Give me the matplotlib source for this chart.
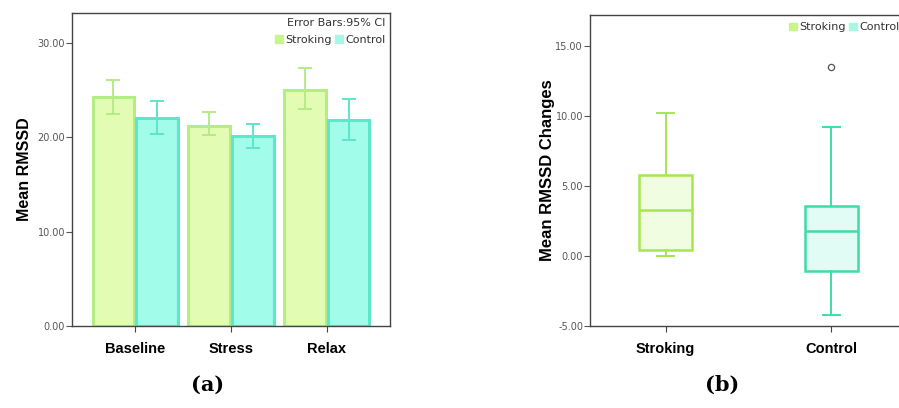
import numpy as np
import matplotlib.pyplot as plt
from matplotlib.patches import Patch

# Mean RMSSD per phase with 95% CI
phases = ["Baseline", "Stress", "Relax"]
stroking_mean = [24.3, 21.25, 25.0]
stroking_lo = [22.5, 20.3, 23.0]
stroking_hi = [26.1, 22.7, 27.4]
control_mean = [22.1, 20.1, 21.8]
control_lo = [20.4, 18.9, 19.7]
control_hi = [23.9, 21.4, 24.1]

# RMSSD change box statistics
groups = ["Stroking", "Control"]
box_whislo = [0.0, -4.22]
box_q1 = [0.43, -1.07]
box_med = [3.28, 1.78]
box_q3 = [5.79, 3.54]
box_whishi = [10.16, 9.17]
box_fliers = [[], [13.46]]

str_fill, str_edge = "#e2fdb3", "#b4ec86"
ctl_fill, ctl_edge = "#a2fcea", "#5de6cb"
box_str_fill, box_str_edge = "#f1fde0", "#a6e64f"
box_ctl_fill, box_ctl_edge = "#e1fcf4", "#3fdca6"
tick_col = "#555555"
sans = "Liberation Sans"

fig = plt.figure(figsize=(8.99, 4.08), dpi=100)

# (a) bar chart
ax1 = fig.add_axes([0.0801, 0.2017, 0.3537, 0.7664])
x = np.arange(len(phases))
w = 0.435
g = 0.02
xs = x - w / 2 - g / 2
xc = x + w / 2 + g / 2
ax1.bar(xs, stroking_mean, width=w, color=str_fill, edgecolor=str_edge, linewidth=2.2, zorder=2)
ax1.bar(xc, control_mean, width=w, color=ctl_fill, edgecolor=ctl_edge, linewidth=2.2, zorder=2)
sm = np.array(stroking_mean)
cm = np.array(control_mean)
ax1.errorbar(xs, sm, yerr=[sm - np.array(stroking_lo), np.array(stroking_hi) - sm],
             fmt="none", ecolor=str_edge, elinewidth=1.4, capsize=5, capthick=1.4, zorder=3)
ax1.errorbar(xc, cm, yerr=[cm - np.array(control_lo), np.array(control_hi) - cm],
             fmt="none", ecolor=ctl_edge, elinewidth=1.4, capsize=5, capthick=1.4, zorder=3)
ax1.set_xlim(-0.66, 2.66)
ax1.set_ylim(0, 33.2)
ax1.set_yticks([0, 10, 20, 30])
ax1.set_yticklabels(["0.00", "10.00", "20.00", "30.00"])
ax1.set_xticks(x)
ax1.set_xticklabels(phases, fontsize=10.5, fontweight="bold", family=sans)
ax1.set_ylabel("Mean RMSSD", fontsize=11.5, fontweight="bold", family=sans, labelpad=4)
ax1.text(0.985, 0.985, "Error Bars:95% CI", transform=ax1.transAxes, ha="right", va="top",
         fontsize=8, color="#333333")
ax1.legend(handles=[Patch(facecolor="#c6f58a", edgecolor="#c6f58a", label="Stroking"),
                    Patch(facecolor="#a6f7e4", edgecolor="#a6f7e4", label="Control")],
           loc="upper right", bbox_to_anchor=(1.01, 0.955), ncol=2, frameon=False, fontsize=8,
           handlelength=0.7, handleheight=0.7, handletextpad=0.2, columnspacing=0.3,
           borderpad=0.2, labelcolor="#333333")

# (b) box plot
ax2 = fig.add_axes([0.6563, 0.2017, 0.3526, 0.7623])
stats = []
for i in range(len(groups)):
    stats.append(dict(label=groups[i], whislo=box_whislo[i], q1=box_q1[i], med=box_med[i],
                      q3=box_q3[i], whishi=box_whishi[i], fliers=box_fliers[i]))
bp = ax2.bxp(stats, positions=[0, 1], widths=0.317, patch_artist=True, showcaps=True,
             flierprops=dict(marker="o", markersize=4.5, markerfacecolor="white",
                             markeredgecolor="#555555", markeredgewidth=0.9))
fills = [box_str_fill, box_ctl_fill]
edges = [box_str_edge, box_ctl_edge]
for i in range(len(groups)):
    bp["boxes"][i].set_facecolor(fills[i])
    bp["boxes"][i].set_edgecolor(edges[i])
    bp["boxes"][i].set_linewidth(1.8)
    bp["medians"][i].set_color(edges[i])
    bp["medians"][i].set_linewidth(1.8)
    for k in (2 * i, 2 * i + 1):
        bp["whiskers"][k].set_color(edges[i])
        bp["whiskers"][k].set_linewidth(1.4)
        bp["caps"][k].set_color(edges[i])
        bp["caps"][k].set_linewidth(1.4)
        bp["caps"][k].set_xdata(i + np.array([-0.05, 0.05]))
ax2.set_xlim(-0.456, 1.456)
ax2.set_ylim(-5, 17.2)
ax2.set_yticks([-5, 0, 5, 10, 15])
ax2.set_yticklabels(["-5.00", "0.00", "5.00", "10.00", "15.00"])
ax2.set_xticks([0, 1])
ax2.set_xticklabels(groups, fontsize=10.5, fontweight="bold", family=sans)
ax2.set_ylabel("Mean RMSSD Changes", fontsize=12, fontweight="bold", family=sans, labelpad=0)
ax2.legend(handles=[Patch(facecolor="#c6f58a", edgecolor="#c6f58a", label="Stroking"),
                    Patch(facecolor="#a6f7e4", edgecolor="#a6f7e4", label="Control")],
           loc="upper right", bbox_to_anchor=(1.0, 1.0), ncol=2, frameon=False, fontsize=8,
           handlelength=0.7, handleheight=0.7, handletextpad=0.2, columnspacing=0.3,
           borderpad=0.2, labelcolor="#333333")

for ax in (ax1, ax2):
    for s in ax.spines.values():
        s.set_color("#444444")
        s.set_linewidth(1.0)
    ax.tick_params(axis="y", labelsize=7, colors=tick_col, length=4, width=0.8, pad=1)
    ax.tick_params(axis="x", length=4, width=0.8, color="#444444", pad=8)
    for t in ax.get_yticklabels():
        t.set_color(tick_col)

fig.text(208 / 899, 1 - 385 / 408, "(a)", ha="center", va="center", fontsize=15,
         family="DejaVu Serif", fontweight="bold")
fig.text(722 / 899, 1 - 385 / 408, "(b)", ha="center", va="center", fontsize=15,
         family="DejaVu Serif", fontweight="bold")

fig.savefig("out.png", dpi=100)
